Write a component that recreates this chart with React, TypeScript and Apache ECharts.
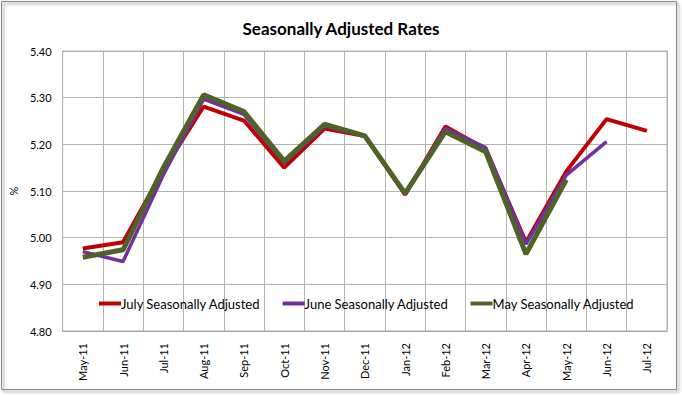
import React, { useEffect, useRef } from "react";
import * as echarts from "echarts";

const categories = ["May-11", "Jun-11", "Jul-11", "Aug-11", "Sep-11", "Oct-11", "Nov-11", "Dec-11", "Jan-12", "Feb-12", "Mar-12", "Apr-12", "May-12", "Jun-12", "Jul-12"];
const julySA = [4.977, 4.99, 5.145, 5.281, 5.251, 5.15, 5.234, 5.218, 5.092, 5.238, 5.19, 4.99, 5.142, 5.254, 5.229];
const juneSA = [4.97, 4.949, 5.135, 5.297, 5.264, 5.16, 5.239, 5.218, 5.094, 5.234, 5.193, 4.986, 5.134, 5.206, null];
const maySA = [4.958, 4.974, 5.15, 5.306, 5.27, 5.164, 5.243, 5.218, 5.095, 5.227, 5.184, 4.965, 5.124, null, null];
const seriesNames = ["July Seasonally Adjusted", "June Seasonally Adjusted", "May Seasonally Adjusted"];
const colors = ["#C00000", "#7030A0", "#4F6228"];
const widths = [4, 3.5, 5];

const FONT = "Lato, 'Noto Sans', sans-serif";

export default function App() {
  const ref = useRef<HTMLDivElement>(null);
  useEffect(() => {
    if (!ref.current) return;
    const chart = echarts.init(ref.current, null, { renderer: "svg" });
    const data = [julySA, juneSA, maySA];
    chart.setOption({
      animation: false,
      backgroundColor: "#ffffff",
      title: {
        text: "Seasonally Adjusted Rates",
        left: "center",
        top: 15,
        textStyle: { fontFamily: FONT, fontSize: 17, fontWeight: "bold", color: "#000" },
      },
      graphic: [
        {
          type: "rect",
          shape: { x: 1.5, y: 1.5, width: 675, height: 388 },
          style: { fill: "none", stroke: "#8c8c8c", lineWidth: 1, shadowBlur: 3, shadowOffsetX: 2, shadowOffsetY: 2, shadowColor: "rgba(0,0,0,0.5)" },
          z: 100,
          silent: true,
        },
      ],
      legend: {
        left: 99,
        top: 297,
        padding: 0,
        itemWidth: 22,
        itemHeight: 4,
        itemGap: 22,
        icon: "rect",
        data: seriesNames,
        textStyle: { fontFamily: FONT, fontSize: 13, color: "#000", padding: [0, 0, 0, -5] },
      },
      grid: {
        left: 54,
        right: 15,
        top: 51,
        bottom: 64,
        show: true,
        borderColor: "#a6a6a6",
        borderWidth: 1,
      },
      xAxis: {
        type: "category",
        data: categories,
        boundaryGap: true,
        axisLine: { show: true, lineStyle: { color: "#a6a6a6" } },
        axisTick: { show: false },
        axisLabel: { rotate: 90, margin: 12, fontFamily: FONT, fontSize: 11, color: "#000", interval: 0 },
        splitLine: { show: true, interval: 0, lineStyle: { color: "#b3b3b3", width: 1 } },
      },
      yAxis: {
        type: "value",
        min: 4.8,
        max: 5.4,
        interval: 0.1,
        name: "%",
        nameLocation: "middle",
        nameGap: 39,
        nameRotate: 90,
        nameTextStyle: { fontFamily: FONT, fontSize: 11, color: "#000" },
        axisLine: { show: false },
        axisTick: { show: false },
        axisLabel: { margin: 11, fontFamily: FONT, fontSize: 11, color: "#000", formatter: (v: number) => v.toFixed(2) },
        splitLine: { show: true, lineStyle: { color: "#b3b3b3", width: 1 } },
      },
      series: seriesNames.map((name, i) => ({
        name,
        type: "line",
        data: data[i],
        showSymbol: false,
        symbol: "none",
        connectNulls: false,
        lineStyle: { color: colors[i], width: widths[i] },
        itemStyle: { color: colors[i] },
        z: 2 + i,
      })),
    });
    return () => chart.dispose();
  }, []);
  return (
    <div
      ref={ref}
      style={{ position: "absolute", left: 0, top: 0, width: 682, height: 395 }}
    />
  );
}
